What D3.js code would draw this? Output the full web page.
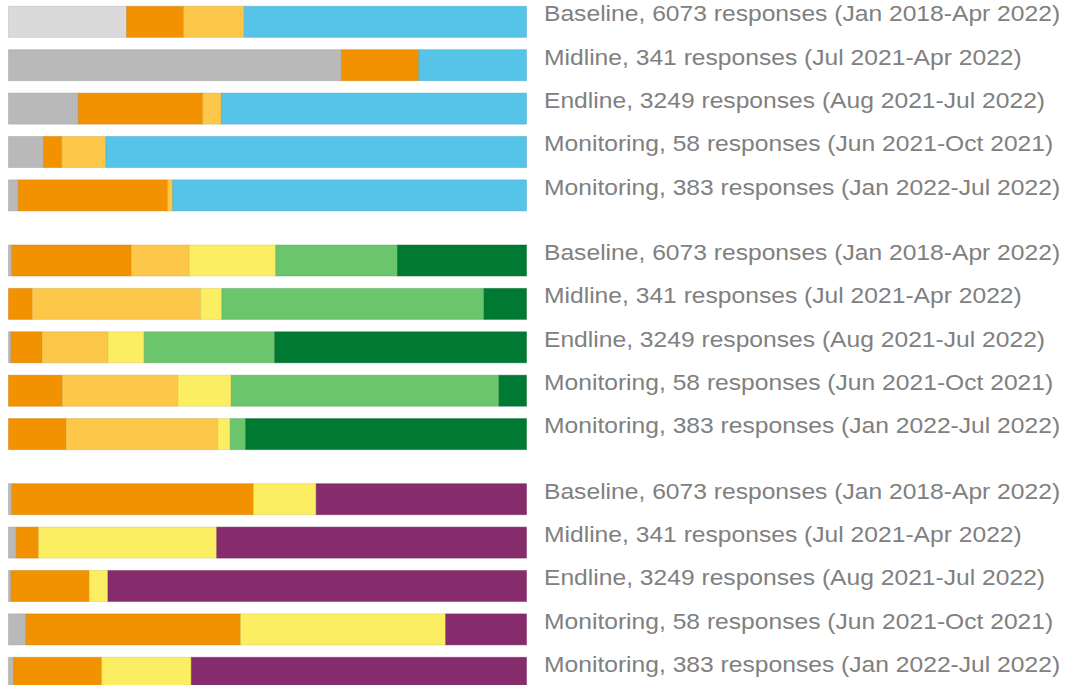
<!DOCTYPE html>
<html>
<head>
<meta charset="utf-8">
<script src="https://cdn.jsdelivr.net/npm/d3@7"></script>
<style>
  body { margin: 0; background: #fff; }
  svg { display: block; }
</style>
</head>
<body>
<svg id="chart" width="1088" height="685"></svg>
<script>
const rowLabels = [
  "Baseline, 6073 responses (Jan 2018-Apr 2022)",
  "Midline, 341 responses (Jul 2021-Apr 2022)",
  "Endline, 3249 responses (Aug 2021-Jul 2022)",
  "Monitoring, 58 responses (Jun 2021-Oct 2021)",
  "Monitoring, 383 responses (Jan 2022-Jul 2022)",
];

// group 1
const keys1 = ["notAsked", "noAnswer", "no", "partly", "yes"];
const colors1 = ["#dadada", "#b9b9b9", "#f39200", "#fdc849", "#56c3e8"];
const values1 = [
  [22.8, 0, 11.0, 11.7, 54.5],
  [0, 64.3, 14.9, 0, 20.8],
  [0, 13.5, 24.0, 3.6, 58.9],
  [0, 6.8, 3.5, 8.5, 81.2],
  [0, 1.9, 28.8, 1.0, 68.3],
];

// group 2
const keys2 = ["noAnswer", "veryLow", "low", "medium", "high", "veryHigh"];
const colors2 = ["#b9b9b9", "#f39200", "#fdc849", "#fcee62", "#6ac56c", "#007a33"];
const values2 = [
  [0.7, 23.0, 11.2, 16.7, 23.5, 24.9],
  [0, 4.6, 32.5, 4.1, 50.6, 8.2],
  [0.5, 6.0, 12.7, 7.0, 25.2, 48.6],
  [0, 10.4, 22.3, 10.3, 51.7, 5.3],
  [0, 11.1, 29.3, 2.4, 3.0, 54.2],
];

// group 3
const keys3 = ["noAnswer", "no", "some", "yes"];
const colors3 = ["#b9b9b9", "#f39200", "#fcee62", "#862b6c"];
const values3 = [
  [0.7, 46.6, 12.1, 40.6],
  [1.5, 4.3, 34.4, 59.8],
  [0.5, 15.1, 3.6, 80.8],
  [3.4, 41.4, 39.6, 15.6],
  [1.0, 17.0, 17.3, 64.7],
];

const groups = [
  { keys: keys1, colors: colors1, values: values1 },
  { keys: keys2, colors: colors2, values: values2 },
  { keys: keys3, colors: colors3, values: values3 },
];

const svg = d3.select("#chart");
const barH = 31;
const step = 43.4;
const groupStep = 5.5; // in row steps

const x = d3.scaleLinear().domain([0, 100]).range([8.5, 526.5]);
const y = d3.scaleLinear().domain([0, 1]).range([6.3, 6.3 + step]);

groups.forEach((grp, gi) => {
  const rows = grp.values.map((vals) => {
    const o = {};
    grp.keys.forEach((k, i) => (o[k] = vals[i]));
    return o;
  });
  const color = d3.scaleOrdinal().domain(grp.keys).range(grp.colors);
  const series = d3.stack().keys(grp.keys)(rows);

  const g = svg.append("g");

  g.selectAll("g.series")
    .data(series)
    .join("g")
    .attr("class", "series")
    .attr("fill", (d) => color(d.key))
    .attr("stroke", (d) => d3.color(color(d.key)).darker(0.5))
    .attr("stroke-opacity", 0.45)
    .selectAll("rect")
    .data((d) => d.filter((p) => p[1] - p[0] > 0))
    .join("rect")
    .attr("x", (d) => x(d[0]))
    .attr("y", (d) => y(gi * groupStep + rows.indexOf(d.data)))
    .attr("width", (d) => x(d[1]) - x(d[0]))
    .attr("height", barH);

  // labels are a little stretched horizontally in the original
  g.selectAll("text")
    .data(rowLabels)
    .join("text")
    .attr("transform", (d, i) => `translate(544, ${y(gi * groupStep + i) + 14.8}) scale(1.12, 1)`)
    .attr("font-family", "Liberation Sans, Arial, sans-serif")
    .attr("font-size", 22)
    .attr("fill", "#808080")
    .text((d) => d);
});
</script>
</body>
</html>
